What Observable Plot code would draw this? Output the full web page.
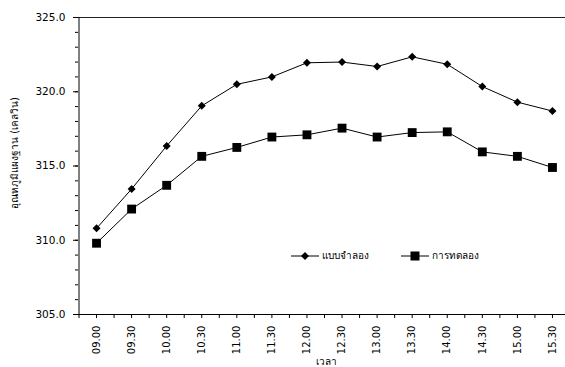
<!DOCTYPE html>
<html><head><meta charset="utf-8">
<script src="https://cdn.jsdelivr.net/npm/d3@7"></script>
<script src="https://cdn.jsdelivr.net/npm/@observablehq/plot@0.6"></script>
<style>
body{margin:0;background:#fff;}
#wrap{position:relative;width:565px;height:367px;overflow:hidden;font-family:"DejaVu Sans",sans-serif;background:#fff;}
#legend{position:absolute;left:291px;top:248px;display:flex;align-items:center;font-size:10px;color:#000;}
#legend .item{display:flex;align-items:center;}
#legend svg{display:block;margin-right:3px;}
</style></head><body><div id="wrap"></div>
<script>
const times = ["09.00","09.30","10.00","10.30","11.00","11.30","12.00","12.30","13.00","13.30","14.00","14.30","15.00","15.30"];
const modelTemp = [310.8, 313.45, 316.35, 319.05, 320.5, 321.0, 321.95, 322.0, 321.7, 322.35, 321.85, 320.35, 319.3, 318.7];
const expTemp = [309.8, 312.1, 313.7, 315.65, 316.25, 316.95, 317.1, 317.55, 316.95, 317.25, 317.3, 315.95, 315.65, 314.9];
const yTicks = [305, 310, 315, 320, 325];
const seriesNames = ["แบบจำลอง", "การทดลอง"];
const yTitle = "อุณหภูมิแผงฐาน (เคลวิน)";
const xTitle = "เวลา";

const modelData = times.map((t, i) => ({i, t, v: modelTemp[i], s: seriesNames[0]}));
const expData = times.map((t, i) => ({i, t, v: expTemp[i], s: seriesNames[1]}));
const n = times.length;

const chart = Plot.plot({
  width: 565, height: 367,
  marginLeft: 78, marginTop: 17, marginBottom: 53, marginRight: 0,
  x: {type: "linear", domain: [-0.5, n - 0.5], range: [78.5, 569.5]},
  y: {domain: [305, 325], range: [314, 17]},
  style: {fontFamily: "'DejaVu Sans', sans-serif", fontSize: "10px", background: "white", color: "black"},
  marks: [
    Plot.ruleY([325], {stroke: "#222", strokeWidth: 1}),
    Plot.ruleY([305], {stroke: "#000", strokeWidth: 1}),
    Plot.ruleX([-0.5], {stroke: "#000", strokeWidth: 1}),
    Plot.axisY({ticks: d3.range(305, 325.01, 1), tickSize: 3, tickFormat: () => "", label: null}),
    Plot.axisY({ticks: yTicks, tickSize: 5, tickPadding: 8, tickFormat: d => d.toFixed(1), label: null, fontSize: 10.5}),
    Plot.axisX({ticks: d3.range(-0.5, n, 0.5), tickSize: 4, tickFormat: () => "", label: null}),
    Plot.axisX({ticks: d3.range(n), tickSize: 0, tickPadding: 11, tickRotate: -90, tickFormat: i => times[i], label: null}),
    Plot.line(modelData, {x: "i", y: "v", stroke: "black", strokeWidth: 1}),
    Plot.line(expData, {x: "i", y: "v", stroke: "black", strokeWidth: 1}),
    Plot.dot(modelData, {x: "i", y: "v", symbol: "diamond2", fill: "black", stroke: "none", r: 3.6}),
    Plot.dot(expData, {x: "i", y: "v", symbol: "square", fill: "black", stroke: "none", r: 5.0}),
    Plot.text([yTitle], {frameAnchor: "left", textAnchor: "middle", rotate: -90, dx: -64, dy: -13, fontSize: 10}),
    Plot.text([xTitle], {frameAnchor: "bottom", dy: 50, dx: 4, fontSize: 10})
  ]
});
const wrap = document.getElementById("wrap");
wrap.appendChild(chart);

const legend = document.createElement("div");
legend.id = "legend";
const icons = [
  `<svg width="28" height="10"><line x1="0" y1="5" x2="28" y2="5" stroke="black"/><path d="M14 1 L18 5 L14 9 L10 5 Z" fill="black"/></svg>`,
  `<svg width="28" height="10"><line x1="0" y1="5" x2="28" y2="5" stroke="black"/><rect x="9.5" y="0.5" width="9" height="9" fill="black"/></svg>`
];
seriesNames.forEach((name, k) => {
  const it = document.createElement("div");
  it.className = "item";
  it.style.marginRight = k === 0 ? "32px" : "0";
  it.innerHTML = icons[k] + `<span>${name}</span>`;
  legend.appendChild(it);
});
wrap.appendChild(legend);
</script></body></html>
